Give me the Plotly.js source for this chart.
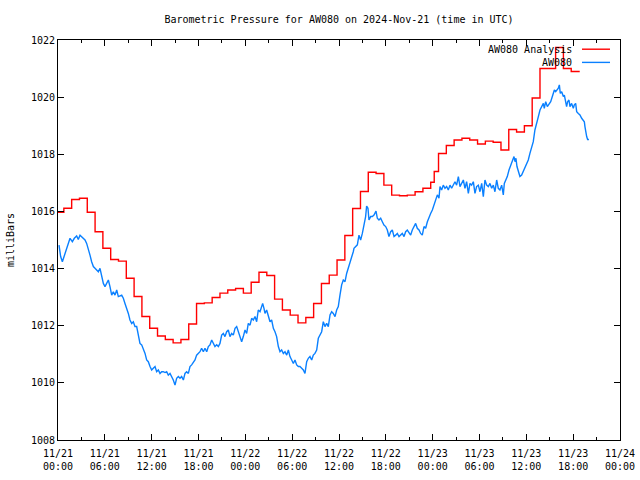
<!DOCTYPE html>
<html>
<head>
<meta charset="utf-8">
<script src="https://cdn.plot.ly/plotly-3.0.1.min.js"></script>
<style>html,body{margin:0;padding:0;background:#fff;}#chart{width:640px;height:480px;}</style>
</head>
<body>
<div id="chart"></div>
<script>
// ---- data (hours after 2024-11-21 00:00 UTC, pressure in mbar) ----
const redHours = [0,0.75,1.75,2.75,3.75,4.75,5.75,6.75,7.75,8.75,9.75,10.75,11.75,12.75,13.75,14.75,15.75,16.75,17.75,18.75,19.75,20.75,21.75,22.75,23.75,24.75,25.75,26.75,27.75,28.75,29.75,30.75,31.75,32.75,33.75,34.75,35.75,36.75,37.75,38.75,39.75,40.75,41.75,42.75,43.75,44.75,45.75,46.75,47.75,48.2,48.75,49.75,50.75,51.75,52.75,53.75,54.75,55.75,56.75,57.75,58.75,59.75,60.75,61.75,62.75,63.75,64.75,65.75,66.75];
const redValues = [1015.97,1016.11,1016.42,1016.46,1015.97,1015.29,1014.71,1014.32,1014.26,1013.66,1013.02,1012.32,1011.91,1011.64,1011.52,1011.40,1011.52,1012.06,1012.78,1012.80,1012.99,1013.14,1013.25,1013.30,1013.14,1013.52,1013.87,1013.76,1012.93,1012.55,1012.37,1012.10,1012.29,1012.78,1013.48,1013.77,1014.30,1015.16,1016.10,1016.70,1017.37,1017.33,1016.92,1016.57,1016.55,1016.57,1016.69,1016.81,1017.02,1017.40,1018.03,1018.31,1018.50,1018.56,1018.50,1018.36,1018.46,1018.42,1018.15,1018.87,1018.78,1019.00,1019.97,1021.00,1021.00,1021.74,1021.00,1020.90,1020.92];

const blueHours = [0.13,0.34,0.56,0.77,0.98,1.32,1.54,1.84,2.09,2.39,2.60,2.82,3.16,3.46,3.67,3.89,4.10,4.31,4.53,4.74,4.95,5.17,5.38,5.59,5.81,6.02,6.23,6.45,6.66,6.88,7.09,7.30,7.52,7.73,8.16,8.37,8.58,8.80,9.01,9.22,9.44,9.65,9.86,10.08,10.29,10.50,10.72,10.93,11.15,11.36,11.57,11.79,12.00,12.21,12.43,12.64,12.85,13.07,13.28,13.49,13.71,13.92,14.13,14.35,14.56,14.77,14.99,15.20,15.42,15.63,15.84,16.06,16.27,16.48,16.70,16.91,17.12,17.34,17.55,17.76,17.98,18.19,18.40,18.62,18.83,19.05,19.26,19.47,19.69,19.90,20.11,20.33,20.54,20.75,20.97,21.18,21.39,21.61,21.82,22.03,22.25,22.46,22.68,22.89,23.10,23.32,
23.53,23.74,23.96,24.17,24.38,24.60,24.81,25.02,25.24,25.45,25.66,25.88,26.09,26.22,26.39,26.52,26.73,26.95,27.16,27.37,27.59,27.80,28.01,28.23,28.44,28.65,28.87,29.08,29.30,29.51,29.72,29.94,30.15,30.36,30.58,30.79,31.00,31.22,31.43,31.64,31.86,32.07,32.28,32.50,32.71,32.92,33.14,33.35,33.56,33.78,33.99,34.20,34.42,34.63,34.85,35.06,35.27,35.49,35.70,35.91,36.13,36.34,36.55,36.77,36.98,37.19,37.41,37.62,37.83,
37.92,38.13,38.35,38.56,38.77,38.99,39.20,39.41,39.54,39.71,39.84,40.06,40.27,40.48,40.74,40.91,41.12,41.34,41.55,41.76,41.98,42.19,42.40,42.62,42.83,43.05,43.26,43.47,43.69,43.90,44.11,44.33,44.54,44.75,44.97,45.18,45.39,45.61,45.82,46.03,46.25,46.46,46.67,46.89,47.10,47.32,47.53,47.74,47.96,48.17,48.38,48.60,48.81,
48.94,49.15,49.36,49.58,49.79,50.00,50.22,50.43,50.65,50.86,51.07,51.29,51.50,51.71,51.93,52.14,52.35,52.57,52.78,52.99,53.21,53.42,53.63,53.85,54.06,54.28,54.49,54.70,54.92,55.13,55.34,55.56,55.77,55.98,56.20,56.41,56.62,56.84,57.05,57.18,57.35,57.56,57.78,57.99,58.20,58.42,58.55,58.67,58.80,58.97,59.18,59.40,59.61,59.82,60.04,60.25,60.46,60.68,60.89,61.10,
61.32,61.54,61.75,61.96,62.18,62.30,62.48,62.69,62.90,63.12,63.33,63.46,63.59,63.76,63.88,64.10,64.23,64.35,64.53,64.74,64.87,65.04,65.16,65.29,65.46,65.59,65.80,66.02,66.15,66.32,66.45,66.66,66.87,67.09,67.30,67.43,67.51,67.60,67.73,67.85,68.02];
const blueValues = [1014.82,1014.42,1014.24,1014.42,1014.65,1014.88,1015.06,1014.94,1015.06,1015.14,1015.02,1015.17,1015.06,1015.00,1014.88,1014.71,1014.47,1014.24,1014.07,1014.01,1013.95,1013.89,1014.01,1013.72,1013.48,1013.37,1013.48,1013.60,1013.37,1013.07,1013.19,1013.07,1013.25,1013.02,1013.07,1012.96,1012.78,1012.61,1012.43,1012.20,1012.08,1012.14,1011.97,1011.97,1011.67,1011.38,1011.33,1011.21,1011.03,1010.80,1010.74,1010.57,1010.45,1010.51,1010.57,1010.39,1010.45,1010.33,1010.39,1010.39,1010.36,1010.39,1010.27,1010.33,1010.22,1010.10,1009.92,1010.16,1010.22,1010.16,1010.22,1010.10,1010.33,1010.39,1010.33,1010.57,1010.63,1010.74,1010.80,1010.97,1011.03,1011.09,1011.21,1011.09,1011.21,1011.09,1011.27,1011.33,1011.50,1011.38,1011.27,1011.33,1011.27,1011.38,1011.67,1011.73,1011.62,1011.79,1011.85,1011.62,1011.73,1011.67,1011.91,1011.97,1011.79,1011.67,
1011.44,1011.62,1011.85,1011.73,1012.08,1012.02,1012.26,1012.20,1012.32,1012.14,1012.55,1012.49,1012.72,1012.78,1012.61,1012.43,1012.55,1012.32,1012.14,1012.20,1011.91,1011.79,1011.62,1011.27,1011.09,1011.15,1011.03,1011.09,1010.97,1011.15,1010.92,1010.80,1010.68,1010.80,1010.63,1010.57,1010.57,1010.51,1010.45,1010.33,1010.74,1010.86,1010.92,1010.80,1010.97,1011.03,1011.15,1011.56,1011.67,1011.79,1012.14,1011.97,1012.08,1011.97,1012.38,1012.49,1012.43,1012.32,1012.55,1012.67,1013.08,1013.43,1013.60,1013.54,1013.83,1014.01,1014.18,1014.36,1014.59,
1014.71,1014.77,1014.83,1015.17,1015.00,1015.23,1015.52,1015.82,1016.19,1016.11,1015.70,1015.82,1015.82,1015.87,1016.01,1015.76,1015.70,1015.76,1015.64,1015.52,1015.47,1015.35,1015.12,1015.29,1015.35,1015.12,1015.17,1015.23,1015.12,1015.17,1015.23,1015.12,1015.29,1015.35,1015.23,1015.17,1015.35,1015.47,1015.58,1015.41,1015.35,1015.23,1015.17,1015.47,1015.41,1015.64,1015.82,1015.93,1016.05,1016.22,1016.40,1016.58,1016.46,
1016.87,1016.75,1016.92,1016.81,1016.87,1016.75,1016.92,1016.81,1016.92,1017.04,1016.92,1017.22,1016.87,1016.98,1017.10,1016.81,1017.04,1016.63,1016.98,1016.92,1017.04,1016.63,1016.87,1016.92,1016.69,1016.98,1016.52,1017.10,1016.92,1016.87,1016.98,1016.81,1016.92,1016.69,1017.10,1016.81,1016.75,1016.92,1016.58,1016.98,1017.10,1017.22,1017.45,1017.63,1017.74,1017.92,1017.74,1017.86,1017.57,1017.39,1017.22,1017.27,1017.39,1017.51,1017.63,1017.80,1018.03,1018.21,1018.44,1018.85,
1019.14,1019.32,1019.55,1019.67,1019.78,1019.61,1019.84,1019.67,1019.78,1019.84,1020.02,1020.13,1020.25,1020.19,1020.25,1020.31,1020.43,1020.13,1020.19,1020.02,1020.07,1019.84,1019.67,1019.84,1019.90,1019.67,1019.78,1019.61,1019.73,1019.78,1019.49,1019.43,1019.38,1019.26,1019.20,1019.14,1018.97,1018.79,1018.62,1018.52,1018.52];

const xTickHours = [0,6,12,18,24,30,36,42,48,54,60,66,72];
const xTickLabels = ['11/21<br>00:00','11/21<br>06:00','11/21<br>12:00','11/21<br>18:00','11/22<br>00:00','11/22<br>06:00','11/22<br>12:00','11/22<br>18:00','11/23<br>00:00','11/23<br>06:00','11/23<br>12:00','11/23<br>18:00','11/24<br>00:00'];
const yTickValues = [1008,1010,1012,1014,1016,1018,1020,1022];
const seriesNames = ['AW080 Analysis','AW080'];

// ---- helpers ----
const BASE = Date.UTC(2024,10,21,0,0,0);
function toDate(h){
  const d = new Date(BASE + Math.round(h*3600000));
  return d.toISOString().replace('T',' ').slice(0,19);
}
const FONT = 'DejaVu Sans Mono, Liberation Mono, monospace';
const RED = '#ff0000';
const BLUE = '#0a80ff';

const traces = [
  {x: redHours.map(toDate), y: redValues, type:'scatter', mode:'lines', name: seriesNames[0],
   line:{color:RED, width:1.4, shape:'hv'}, hoverinfo:'skip'},
  {x: blueHours.map(toDate), y: blueValues, type:'scatter', mode:'lines', name: seriesNames[1],
   line:{color:BLUE, width:1.4}, hoverinfo:'skip'}
];

const legY = [0.977, 0.944];
const layout = {
  width:640, height:480,
  margin:{l:58, r:20, t:40, b:40, pad:0},
  paper_bgcolor:'#ffffff', plot_bgcolor:'#ffffff',
  font:{family:FONT, size:10, color:'#000000'},
  showlegend:false,
  title:{text:'Barometric Pressure for AW080 on 2024-Nov-21 (time in UTC)',
         x:0.5, xref:'paper', xanchor:'center', y:1-19/480, yref:'container', yanchor:'middle',
         font:{family:FONT, size:10, color:'#000'}},
  xaxis:{type:'date', range:[toDate(0), toDate(72)],
         tickmode:'array', tickvals:xTickHours.map(toDate), ticktext:xTickLabels,
         ticks:'inside', ticklen:6, tickwidth:1, tickcolor:'#000', ticklabelstandoff:4,
         minor:{ticks:'inside', ticklen:3, tickcolor:'#000', dtick:3*3600000, tick0:toDate(0), showgrid:false},
         showline:true, linecolor:'#000', linewidth:1, mirror:'allticks',
         showgrid:false, zeroline:false, fixedrange:true,
         tickfont:{family:FONT, size:10, color:'#000'}},
  yaxis:{range:[1008,1022], tickmode:'array', tickvals:yTickValues, ticktext:yTickValues.map(String),
         ticks:'inside', ticklen:6, tickwidth:1, tickcolor:'#000',
         showline:true, linecolor:'#000', linewidth:1, mirror:'allticks',
         showgrid:false, zeroline:false, fixedrange:true,
         tickfont:{family:FONT, size:10, color:'#000'},
         title:{text:'milliBars', standoff:14, font:{family:FONT, size:10, color:'#000'}}},
  annotations:[
    {text:seriesNames[0], xref:'paper', yref:'paper', x:(574-58)/562, y:legY[0], xanchor:'right', yanchor:'middle', showarrow:false, font:{family:FONT,size:10,color:'#000'}},
    {text:seriesNames[1], xref:'paper', yref:'paper', x:(574-58)/562, y:legY[1], xanchor:'right', yanchor:'middle', showarrow:false, font:{family:FONT,size:10,color:'#000'}}
  ],
  shapes:[
    {type:'line', xref:'paper', yref:'paper', x0:(582-58)/562, x1:(610-58)/562, y0:legY[0], y1:legY[0], line:{color:RED, width:1.4}},
    {type:'line', xref:'paper', yref:'paper', x0:(582-58)/562, x1:(610-58)/562, y0:legY[1], y1:legY[1], line:{color:BLUE, width:1.4}}
  ]
};

Plotly.newPlot('chart', traces, layout, {staticPlot:true, displayModeBar:false});
</script>
</body>
</html>
